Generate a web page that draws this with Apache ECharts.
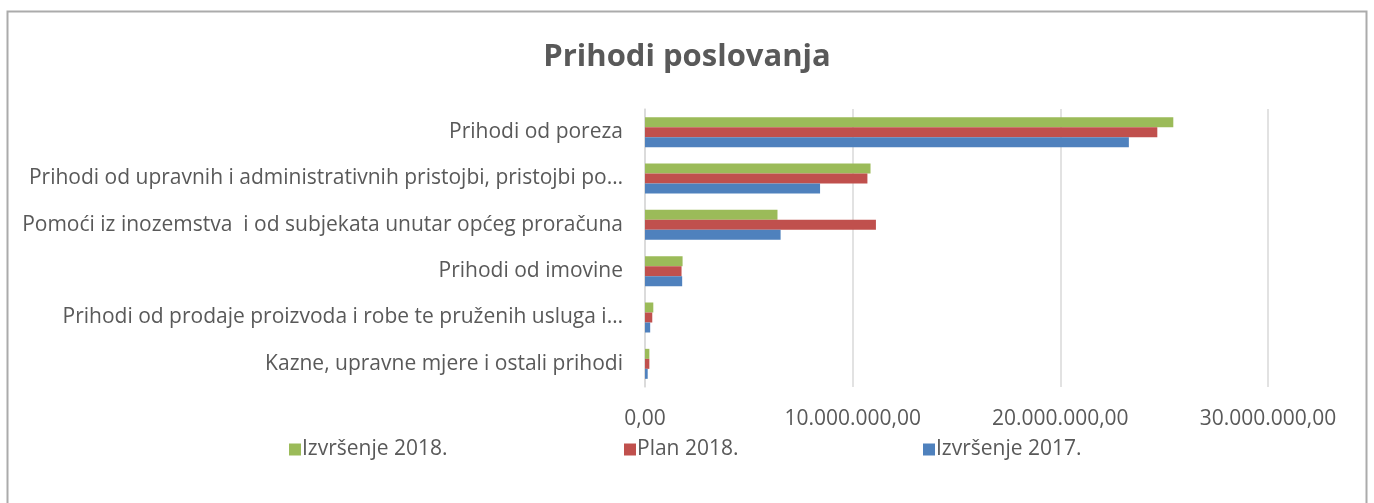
<!DOCTYPE html>
<html>
<head>
<meta charset="utf-8">
<script src="https://cdn.jsdelivr.net/npm/echarts@6/dist/echarts.min.js"></script>
<style>
  html, body { margin: 0; padding: 0; background: #fff; }
  #container { width: 1374px; height: 503px; }
</style>
</head>
<body>
<div id="container"></div>
<script>
// categories listed bottom to top (ECharts category y axis starts at the bottom)
var categories = [
  'Kazne, upravne mjere i ostali prihodi',
  'Prihodi od prodaje proizvoda i robe te pruženih usluga i…',
  'Prihodi od imovine',
  'Pomoći iz inozemstva  i od subjekata unutar općeg proračuna',
  'Prihodi od upravnih i administrativnih pristojbi, pristojbi po…',
  'Prihodi od poreza'
]
var izvrsenje2017 = [130000, 250000, 1790000, 6530000, 8430000, 23300000]
var plan2018 = [210000, 350000, 1760000, 11120000, 10710000, 24670000]
var izvrsenje2018 = [210000, 400000, 1810000, 6380000, 10860000, 25440000]

var FONT = 'Open Sans'
var TEXT = '#595959'
var SIZE = 21

function fmt(v) {
  var s = String(Math.round(v))
  s = s.replace(/\B(?=(\d{3})+(?!\d))/g, '.')
  return s + ',00'
}

function legendAt(name, left) {
  return {
    bottom: 38,
    left: left,
    itemWidth: 12,
    itemHeight: 12,
    icon: 'rect',
    data: [name],
    textStyle: { fontFamily: FONT, fontSize: SIZE, color: TEXT, padding: [0, 0, 0, -4] }
  }
}

var dom = document.getElementById('container')
var myChart = echarts.init(dom)

var option = {
  backgroundColor: '#fff',
  animation: false,
  textStyle: { fontFamily: FONT },
  title: {
    text: 'Prihodi poslovanja',
    left: 'center',
    top: 37,
    textStyle: {
      fontFamily: FONT,
      fontSize: 31,
      fontWeight: 'bold',
      color: TEXT
    }
  },
  graphic: [{
    type: 'rect',
    silent: true,
    shape: { x: 7.5, y: 11.5, width: 1359, height: 500 },
    style: { fill: 'none', stroke: '#ababab', lineWidth: 2 }
  }],
  legend: [
    legendAt('Izvršenje 2018.', 284),
    legendAt('Plan 2018.', 619),
    legendAt('Izvršenje 2017.', 918)
  ],
  grid: {
    left: 645,
    right: 106,
    top: 109,
    bottom: 116,
    containLabel: false
  },
  xAxis: {
    type: 'value',
    min: 0,
    max: 30000000,
    interval: 10000000,
    axisLine: { show: false },
    axisTick: { show: false },
    splitLine: { lineStyle: { color: '#d9d9d9', width: 1.5 } },
    axisLabel: {
      margin: 22,
      fontFamily: FONT,
      fontSize: SIZE,
      color: TEXT,
      formatter: fmt
    }
  },
  yAxis: {
    type: 'category',
    data: categories,
    axisLine: { show: true, lineStyle: { color: '#d9d9d9', width: 1.5 } },
    axisTick: { show: false },
    axisLabel: {
      margin: 22,
      fontFamily: FONT,
      fontSize: SIZE,
      color: TEXT
    }
  },
  series: [{
    name: 'Izvršenje 2018.',
    type: 'bar',
    data: izvrsenje2018,
    barWidth: 10,
    barGap: '0%',
    barCategoryGap: '34%',
    itemStyle: { color: '#9bbb59' }
  }, {
    name: 'Plan 2018.',
    type: 'bar',
    data: plan2018,
    barWidth: 10,
    barGap: '0%',
    itemStyle: { color: '#c0504d' }
  }, {
    name: 'Izvršenje 2017.',
    type: 'bar',
    data: izvrsenje2017,
    barWidth: 10,
    barGap: '0%',
    itemStyle: { color: '#4f81bd' }
  }]
}

myChart.setOption(option)
</script>
</body>
</html>
